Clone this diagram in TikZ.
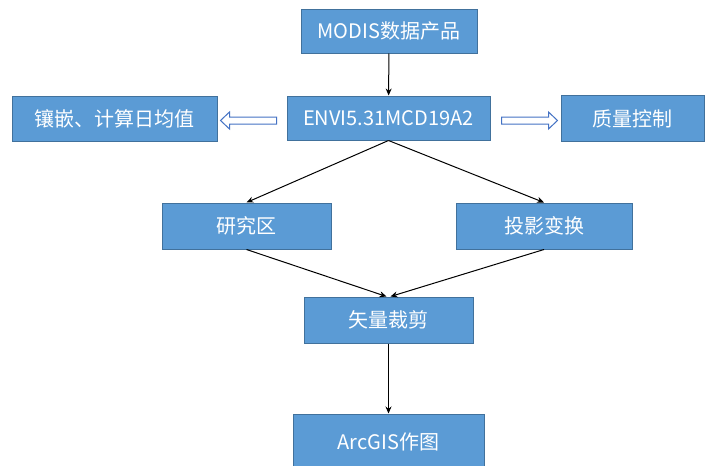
\documentclass[tikz,border=0pt]{standalone}
\usepackage{fontspec}
\setmainfont{Noto Sans CJK SC}
\usetikzlibrary{arrows.meta}
\definecolor{boxfill}{RGB}{91,155,213}
\definecolor{boxline}{RGB}{65,113,156}
\definecolor{hollowline}{RGB}{68,114,196}
\tikzset{
  box/.style={draw=boxline, fill=boxfill, line width=1pt, text=white, font=\fontsize{20}{24}\selectfont, inner sep=0pt, minimum height=45pt},
  conn/.style={draw=black, line width=1pt, -{Stealth[length=7pt,width=6pt]}},
  hollow/.style={draw=hollowline, fill=white, line width=1pt, line join=miter}
}
\begin{document}
\begin{tikzpicture}[x=1pt,y=-1pt]
\clip (0,0) rectangle (705,466);
\fill[white] (0,0) rectangle (705,466);
\node[box, minimum width=176pt, minimum height=44pt] (modis) at (389,31) {MODIS数据产品};
\node[box, minimum width=203pt, minimum height=44pt] (envi) at (388.5,118) {ENVI5.31MCD19A2};
\node[box, minimum width=205pt] (left) at (114.5,118.5) {镶嵌、计算日均值};
\node[box, minimum width=143pt, minimum height=46pt] (right) at (632.5,118.5) {质量控制};
\node[box, minimum width=169pt, minimum height=46pt] (yjq) at (246.5,226) {研究区};
\node[box, minimum width=176pt, minimum height=46pt] (tybh) at (544,226) {投影变换};
\node[box, minimum width=169pt, minimum height=46pt] (slcj) at (388.5,320) {矢量裁剪};
\node[box, minimum width=191pt, minimum height=58pt] (arcgis) at (388.5,443) {};
\node[text=white, font=\fontsize{20}{24}\selectfont] (arcgistext) at (388.5,442) {ArcGIS作图};
\draw[conn] (modis) -- (envi);
\draw[conn] (envi.south) -- (yjq.north);
\draw[conn] (envi.south) -- (tybh.north);
\draw[conn] (yjq.south) -- ([xshift=-2pt]slcj.north);
\draw[conn] (tybh.south) -- ([xshift=2pt]slcj.north);
\draw[conn] (slcj) -- (arcgis);
\coordinate (hlt) at ([xshift=-10pt,yshift=-2.5pt]envi.west);
\coordinate (hrt) at ([xshift=11pt,yshift=-2.5pt]envi.east);
\draw[hollow] (hlt) ++(0,-3.5) -- ++(-47,0) -- ++(0,-5) -- ++(-9,8.5) -- ++(9,8.5) -- ++(0,-5) -- ++(47,0) -- cycle;
\draw[hollow] (hrt) ++(0,-3.5) -- ++(47,0) -- ++(0,-5) -- ++(9,8.5) -- ++(-9,8.5) -- ++(0,-5) -- ++(-47,0) -- cycle;
\end{tikzpicture}
\end{document}
